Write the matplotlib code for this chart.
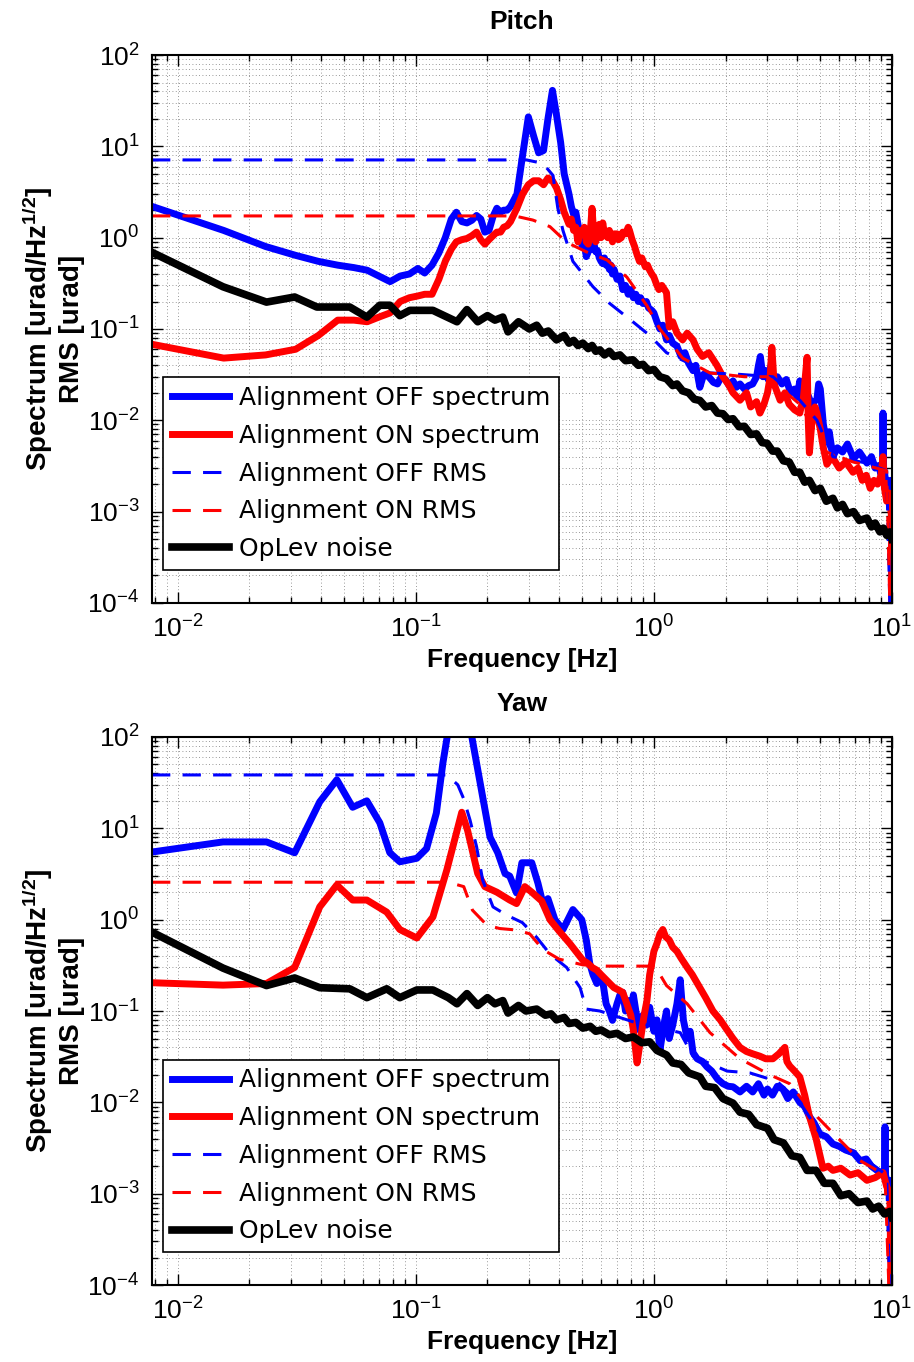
import numpy as np
import matplotlib
matplotlib.use("Agg")
import matplotlib.pyplot as plt
from matplotlib.ticker import LogLocator, NullFormatter

plt.rcParams['font.family'] = ['Liberation Sans', 'DejaVu Sans']
plt.rcParams['mathtext.fontset'] = 'custom'
plt.rcParams['mathtext.rm'] = 'Liberation Sans'
plt.rcParams['mathtext.it'] = 'Liberation Sans:italic'
plt.rcParams['mathtext.bf'] = 'Liberation Sans:bold'

# ---------------- Pitch data ----------------
pitch_off_f = [0.0078, 0.0156, 0.0234, 0.0313, 0.039, 0.047, 0.055, 0.0625, 0.070, 0.078,
               0.086, 0.094, 0.102, 0.109, 0.117, 0.125, 0.133, 0.141, 0.148, 0.156,
               0.164, 0.172, 0.18, 0.1875, 0.195, 0.203, 0.211, 0.219, 0.227, 0.234,
               0.242, 0.25, 0.266, 0.281, 0.297, 0.3125, 0.328, 0.344, 0.359, 0.375,
               0.39, 0.406, 0.42, 0.44, 0.45, 0.46, 0.47, 0.48, 0.49, 0.50,
               0.51, 0.52, 0.53, 0.54, 0.55, 0.56, 0.57, 0.58, 0.59, 0.60,
               0.61, 0.62, 0.63, 0.64, 0.65, 0.66, 0.67, 0.68, 0.70, 0.72,
               0.74, 0.76, 0.78, 0.80, 0.82, 0.84, 0.86, 0.88, 0.90, 0.93,
               0.95, 0.98, 1.0, 1.03, 1.06, 1.09, 1.13, 1.16, 1.2, 1.25,
               1.3, 1.35, 1.4, 1.46, 1.5, 1.56, 1.62, 1.7, 1.78, 1.85,
               1.92, 2.0, 2.07, 2.15, 2.22, 2.3, 2.4, 2.5, 2.6, 2.7,
               2.75, 2.8, 2.87, 2.95, 3.02, 3.1, 3.2, 3.3, 3.45, 3.6,
               3.75, 3.9, 4.0, 4.1, 4.25, 4.4, 4.6, 4.84, 4.92, 5.0,
               5.15, 5.3, 5.45, 5.65, 5.9, 6.2, 6.5, 6.9, 7.3, 7.85,
               8.2, 8.5, 8.8, 9.0, 9.12, 9.17, 9.22, 9.3, 9.5, 9.7,
               9.85, 9.95, 10.0]
pitch_off_asd = [2.2, 1.2, 0.80, 0.64, 0.55, 0.50, 0.47, 0.44, 0.38, 0.33,
                 0.38, 0.40, 0.46, 0.41, 0.50, 0.68, 1.0, 1.6, 1.9, 1.5,
                 1.45, 1.55, 1.75, 1.6, 1.15, 1.2, 1.7, 2.1, 1.9, 2.0,
                 2.0, 2.2, 3.0, 8.0, 21, 13, 8.5, 9.0, 20, 41,
                 22, 11, 5.0, 3.0, 2.2, 1.8, 1.9, 1.4, 1.1, 0.8,
                 0.9, 0.62, 0.7, 0.8, 0.75, 0.85, 0.7, 0.72, 0.6, 0.55,
                 0.52, 0.6, 0.5, 0.55, 0.45, 0.5, 0.4, 0.45, 0.35, 0.38,
                 0.27, 0.3, 0.24, 0.27, 0.22, 0.24, 0.2, 0.22, 0.19, 0.2,
                 0.17, 0.16, 0.15, 0.12, 0.1, 0.11, 0.076, 0.085, 0.07, 0.065,
                 0.05, 0.055, 0.042, 0.035, 0.04, 0.023, 0.032, 0.03, 0.026, 0.025,
                 0.03, 0.028, 0.024, 0.027, 0.023, 0.025, 0.022, 0.024, 0.025, 0.03,
                 0.04, 0.05, 0.03, 0.035, 0.028, 0.04, 0.025, 0.03, 0.025, 0.028,
                 0.02, 0.022, 0.018, 0.027, 0.017, 0.02, 0.015, 0.017, 0.025, 0.022,
                 0.009, 0.006, 0.0075, 0.004, 0.005, 0.0045, 0.0055, 0.0038, 0.0045, 0.0034,
                 0.004, 0.003, 0.0032, 0.0025, 0.0028, 0.012, 0.003, 0.0025, 0.002, 0.0018,
                 0.0022, 0.0015, 1e-5]

pitch_on_f = [0.0078, 0.0156, 0.0234, 0.0313, 0.039, 0.047, 0.055, 0.0625, 0.070, 0.078,
              0.086, 0.094, 0.102, 0.109, 0.117, 0.125, 0.133, 0.141, 0.148, 0.156,
              0.164, 0.172, 0.18, 0.1875, 0.195, 0.203, 0.211, 0.219, 0.227, 0.234,
              0.242, 0.25, 0.266, 0.281, 0.297, 0.3125, 0.328, 0.344, 0.359, 0.375,
              0.39, 0.406, 0.42, 0.44, 0.45, 0.46, 0.47, 0.48, 0.49, 0.50,
              0.51, 0.52, 0.53, 0.54, 0.55, 0.56, 0.57, 0.58, 0.59, 0.60,
              0.61, 0.62, 0.64, 0.65, 0.67, 0.68, 0.70, 0.71, 0.73, 0.74,
              0.76, 0.78, 0.79, 0.81, 0.83, 0.85, 0.87, 0.89, 0.92, 0.94,
              0.96, 0.98, 1.0, 1.03, 1.05, 1.08, 1.13, 1.16, 1.2, 1.25,
              1.32, 1.38, 1.46, 1.52, 1.6, 1.7, 1.84, 1.95, 2.05, 2.15,
              2.3, 2.45, 2.55, 2.7, 2.79, 2.9, 3.0, 3.08, 3.13, 3.2,
              3.3, 3.39, 3.55, 3.7, 3.9, 4.1, 4.25, 4.4, 4.45, 4.5,
              4.6, 4.75, 4.84, 5.0, 5.15, 5.33, 5.6, 6.0, 6.4, 6.86,
              7.2, 7.5, 7.8, 8.1, 8.4, 8.7, 9.0, 9.17, 9.3, 9.5,
              9.7, 9.95, 10.0]
pitch_on_asd = [0.068, 0.048, 0.052, 0.060, 0.085, 0.125, 0.125, 0.12, 0.135, 0.15,
                0.2, 0.22, 0.23, 0.24, 0.24, 0.35, 0.55, 0.75, 0.90, 0.95,
                0.98, 1.05, 1.15, 0.95, 0.85, 0.95, 1.05, 1.15, 1.15, 1.3,
                1.35, 1.5, 2.1, 3.0, 3.8, 4.2, 4.2, 3.8, 4.5, 4.2,
                3.5, 2.6, 1.9, 1.4, 1.6, 1.2, 1.3, 0.9, 1.2, 1.1,
                1.3, 0.9, 0.85, 1.1, 2.1, 1.0, 0.9, 1.2, 1.4, 1.0,
                1.45, 1.1, 1.0, 1.2, 0.9, 1.1, 1.1, 0.95, 1.0, 1.15,
                1.1, 1.3, 1.2, 0.95, 0.8, 0.65, 0.55, 0.6, 0.48, 0.5,
                0.44, 0.4, 0.37, 0.3, 0.27, 0.3, 0.25, 0.105, 0.12, 0.09,
                0.076, 0.09, 0.076, 0.06, 0.05, 0.055, 0.04, 0.03, 0.025, 0.02,
                0.0166, 0.02, 0.014, 0.016, 0.012, 0.015, 0.02, 0.03, 0.063, 0.025,
                0.02, 0.0166, 0.02, 0.015, 0.013, 0.012, 0.018, 0.049, 0.01, 0.0044,
                0.009, 0.014, 0.012, 0.008, 0.005, 0.0033, 0.004, 0.003, 0.0035, 0.0027,
                0.003, 0.0022, 0.0025, 0.0018, 0.0022, 0.002, 0.0025, 0.004, 0.0018, 0.0013,
                0.0016, 0.0009, 1e-5]

pitch_off_rms_f = [0.0078, 0.292, 0.342, 0.377, 0.395, 0.415, 0.457, 0.555, 0.653, 0.816,
                   0.96, 1.13, 1.72, 2.23, 3.16, 4.1, 4.84, 5.65, 7.85, 9.5, 10.0]
pitch_off_rms = [7.1, 7.1, 6.5, 4.8, 2.1, 1.2, 0.55, 0.29, 0.19, 0.12,
                 0.085, 0.055, 0.033, 0.032, 0.03, 0.0166, 0.01, 0.004, 0.0034, 0.0028, 1e-5]

pitch_on_rms_f = [0.0078, 0.26, 0.31, 0.366, 0.43, 0.52, 0.635, 0.77, 0.935, 1.06,
                  1.32, 1.72, 2.4, 3.0, 4.1, 5.3, 6.86, 9.5, 10.0]
pitch_on_rms = [1.73, 1.73, 1.56, 1.32, 0.89, 0.70, 0.57, 0.37, 0.18, 0.10,
                0.048, 0.033, 0.030, 0.030, 0.015, 0.0045, 0.0035, 0.0028, 1e-5]

pitch_opl_f = [0.0078, 0.0155, 0.0236, 0.031, 0.0384, 0.0528, 0.0623, 0.0706, 0.0778, 0.0857,
               0.0944, 0.118, 0.149, 0.164, 0.182, 0.2, 0.215, 0.232, 0.244, 0.27,
               0.3, 0.322, 0.34, 0.36, 0.39, 0.42, 0.44, 0.46, 0.48, 0.503,
               0.53, 0.55, 0.57, 0.593, 0.62, 0.65, 0.68, 0.72, 0.76, 0.816,
               0.86, 0.9, 0.95, 1.0, 1.06, 1.13, 1.2, 1.25, 1.32, 1.4,
               1.48, 1.56, 1.65, 1.75, 1.85, 1.95, 2.05, 2.15, 2.28, 2.4,
               2.55, 2.7, 2.85, 2.99, 3.15, 3.3, 3.5, 3.7, 3.9, 4.1,
               4.3, 4.5, 4.75, 5.0, 5.3, 5.65, 5.9, 6.2, 6.5, 6.9,
               7.3, 7.85, 8.2, 8.5, 8.9, 9.2, 9.5, 9.8, 10.0]
pitch_opl = [0.69, 0.29, 0.197, 0.224, 0.174, 0.174, 0.135, 0.182, 0.182, 0.14,
             0.16, 0.16, 0.12, 0.163, 0.12, 0.14, 0.125, 0.135, 0.093, 0.12,
             0.1, 0.11, 0.09, 0.095, 0.076, 0.085, 0.07, 0.075, 0.066, 0.07,
             0.061, 0.066, 0.057, 0.059, 0.052, 0.057, 0.05, 0.052, 0.045, 0.046,
             0.04, 0.041, 0.035, 0.036, 0.03, 0.0285, 0.024, 0.025, 0.021, 0.02,
             0.017, 0.0165, 0.014, 0.0145, 0.012, 0.0118, 0.0102, 0.0104, 0.0085, 0.0086,
             0.007, 0.0071, 0.0057, 0.0056, 0.0046, 0.0046, 0.0036, 0.0035, 0.0027, 0.0027,
             0.0021, 0.0022, 0.0017, 0.0018, 0.0013, 0.0014, 0.0011, 0.0012, 0.00095, 0.001,
             0.0008, 0.00085, 0.00068, 0.00075, 0.0006, 0.00066, 0.00055, 0.0006, 0.0005]

# ---------------- Yaw data ----------------
yaw_off_f = [0.0078, 0.0155, 0.0236, 0.031, 0.0395, 0.0466, 0.0543, 0.0623, 0.0706, 0.0778,
             0.0857, 0.101, 0.111, 0.122, 0.13, 0.137, 0.148, 0.156, 0.164, 0.172,
             0.191, 0.205, 0.221, 0.237, 0.248, 0.265, 0.279, 0.307, 0.326, 0.342,
             0.359, 0.384, 0.415, 0.457, 0.498, 0.52, 0.538, 0.555, 0.576, 0.59,
             0.61, 0.63, 0.65, 0.67, 0.7, 0.72, 0.74, 0.76, 0.78, 0.8,
             0.82, 0.84, 0.87, 0.9, 0.93, 0.96, 1.0, 1.03, 1.06, 1.1,
             1.13, 1.16, 1.2, 1.25, 1.29, 1.33, 1.38, 1.42, 1.46, 1.52,
             1.6, 1.67, 1.75, 1.85, 1.95, 2.05, 2.15, 2.3, 2.45, 2.6,
             2.75, 2.9, 3.0, 3.15, 3.3, 3.48, 3.65, 3.85, 4.1, 4.3,
             4.5, 4.7, 4.98, 5.3, 5.65, 6.0, 6.4, 6.9, 7.35, 7.8,
             8.2, 8.65, 9.0, 9.3, 9.35, 9.4, 9.6, 9.8, 9.95, 10.0]
yaw_off_asd = [5.5, 7.1, 7.1, 5.4, 19.5, 34, 17, 20, 11.5, 5.4,
               4.3, 4.7, 6.0, 14.7, 52, 120, 400, 300, 150, 100,
               22, 8, 5.4, 3.2, 3.0, 1.96, 4.2, 4.2, 2.5, 1.5,
               1.7, 1.0, 0.78, 1.29, 1.0, 0.6, 0.33, 0.25, 0.2, 0.25,
               0.21, 0.12, 0.1, 0.079, 0.12, 0.15, 0.16, 0.1, 0.13, 0.09,
               0.15, 0.1, 0.062, 0.09, 0.07, 0.11, 0.06, 0.08, 0.037, 0.07,
               0.1, 0.05, 0.07, 0.12, 0.22, 0.08, 0.05, 0.06, 0.035, 0.03,
               0.028, 0.0245, 0.022, 0.018, 0.016, 0.015, 0.0148, 0.013, 0.015, 0.013,
               0.016, 0.012, 0.014, 0.012, 0.015, 0.014, 0.011, 0.013, 0.01, 0.009,
               0.007, 0.006, 0.0045, 0.0042, 0.0035, 0.0033, 0.003, 0.0028, 0.0023, 0.0024,
               0.002, 0.0018, 0.0017, 0.0018, 0.0054, 0.0016, 0.0012, 0.0014, 0.001, 1e-5]

yaw_on_f = [0.0078, 0.0155, 0.0236, 0.031, 0.0395, 0.0466, 0.0543, 0.0623, 0.0755, 0.0857,
            0.101, 0.118, 0.135, 0.156, 0.165, 0.182, 0.195, 0.219, 0.248, 0.265,
            0.287, 0.307, 0.338, 0.366, 0.4, 0.443, 0.503, 0.53, 0.55, 0.576,
            0.6, 0.63, 0.653, 0.68, 0.71, 0.74, 0.77, 0.8, 0.82, 0.85,
            0.88, 0.91, 0.935, 0.96, 1.0, 1.03, 1.06, 1.09, 1.12, 1.16,
            1.2, 1.25, 1.3, 1.38, 1.45, 1.56, 1.65, 1.77, 1.9, 2.03,
            2.15, 2.3, 2.45, 2.6, 2.79, 2.95, 3.16, 3.35, 3.55, 3.62,
            3.72, 3.9, 4.1, 4.3, 4.5, 4.8, 5.13, 5.4, 5.65, 6.1,
            6.67, 7.2, 7.85, 8.5, 9.17, 9.5, 9.8, 10.0]
yaw_on_asd = [0.204, 0.192, 0.20, 0.30, 1.38, 2.4, 1.64, 1.64, 1.21, 0.78,
              0.63, 1.07, 3.5, 15, 9.5, 3.2, 2.3, 2.0, 1.64, 1.5,
              2.3, 2.0, 1.6, 1.0, 0.75, 0.55, 0.36, 0.33, 0.3, 0.28,
              0.25, 0.22, 0.2, 0.18, 0.17, 0.16, 0.12, 0.09, 0.062, 0.027,
              0.05, 0.09, 0.13, 0.25, 0.45, 0.55, 0.7, 0.78, 0.65, 0.6,
              0.5, 0.45, 0.38, 0.3, 0.25, 0.18, 0.14, 0.1, 0.08, 0.062,
              0.05, 0.04, 0.036, 0.034, 0.032, 0.03, 0.03, 0.034, 0.04, 0.028,
              0.025, 0.022, 0.019, 0.012, 0.007, 0.004, 0.0019, 0.002, 0.0018, 0.0019,
              0.0016, 0.0017, 0.0014, 0.0015, 0.0017, 0.0012, 0.001, 1e-5]

yaw_off_rms_f = [0.0078, 0.135, 0.15, 0.159, 0.169, 0.18, 0.191, 0.211, 0.241, 0.28,
                 0.322, 0.366, 0.43, 0.49, 0.52, 0.593, 0.82, 1.29, 1.46, 2.03,
                 2.53, 3.29, 4.1, 4.98, 6.2, 7.85, 9.5, 10.0]
yaw_off_rms = [38.4, 38.4, 30, 21, 12.3, 6.3, 2.7, 1.38, 1.12, 0.93,
               0.64, 0.42, 0.30, 0.18, 0.105, 0.10, 0.076, 0.058, 0.032, 0.022,
               0.021, 0.017, 0.01, 0.0046, 0.003, 0.0023, 0.0016, 1e-5]

yaw_on_rms_f = [0.0078, 0.137, 0.159, 0.173, 0.199, 0.225, 0.265, 0.301, 0.342, 0.4,
                0.503, 0.635, 1.01, 1.13, 1.38, 1.72, 2.3, 3.07, 3.72, 4.5,
                5.48, 7.35, 9.35, 10.0]
yaw_on_rms = [2.57, 2.57, 2.3, 1.27, 0.87, 0.80, 0.77, 0.70, 0.47, 0.37,
              0.32, 0.31, 0.31, 0.19, 0.12, 0.058, 0.03, 0.02, 0.016, 0.0085,
              0.005, 0.0023, 0.0016, 1e-5]

yaw_opl_f = [0.0078, 0.0155, 0.0236, 0.031, 0.0395, 0.0528, 0.0623, 0.0755, 0.0857, 0.101,
             0.118, 0.137, 0.149, 0.164, 0.182, 0.2, 0.215, 0.232, 0.244, 0.27,
             0.29, 0.322, 0.35, 0.37, 0.39, 0.42, 0.44, 0.47, 0.503, 0.54,
             0.57, 0.6, 0.65, 0.7, 0.76, 0.82, 0.89, 0.96, 1.03, 1.13,
             1.2, 1.3, 1.4, 1.56, 1.65, 1.8, 1.95, 2.15, 2.3, 2.5,
             2.7, 3.0, 3.2, 3.5, 3.8, 4.1, 4.4, 4.8, 5.2, 5.65,
             6.1, 6.6, 7.2, 7.85, 8.3, 8.8, 9.3, 9.8, 10.0]
yaw_opl = [0.73, 0.295, 0.19, 0.23, 0.18, 0.175, 0.14, 0.175, 0.14, 0.17,
           0.17, 0.14, 0.12, 0.155, 0.115, 0.14, 0.12, 0.13, 0.095, 0.115,
           0.1, 0.105, 0.09, 0.093, 0.08, 0.085, 0.073, 0.075, 0.065, 0.068,
           0.06, 0.062, 0.055, 0.057, 0.05, 0.052, 0.045, 0.046, 0.037, 0.033,
           0.027, 0.026, 0.021, 0.019, 0.015, 0.0145, 0.011, 0.0098, 0.0078, 0.0074,
           0.0057, 0.0052, 0.0039, 0.0036, 0.0026, 0.0025, 0.0018, 0.0018, 0.0013, 0.0013,
           0.00095, 0.001, 0.0008, 0.00083, 0.00068, 0.00073, 0.0006, 0.00064, 0.00055]

labels = ["Alignment OFF spectrum", "Alignment ON spectrum",
          "Alignment OFF RMS", "Alignment ON RMS", "OpLev noise"]

BLUE = "#0000ff"
RED = "#ff0000"

fig = plt.figure(figsize=(9.14, 13.62), dpi=100)
ax1 = fig.add_axes([0.1663, 0.5573, 0.8096, 0.4023])
ax2 = fig.add_axes([0.1663, 0.0565, 0.8096, 0.4024])

panels = [
    (ax1, "Pitch", pitch_off_f, pitch_off_asd, pitch_on_f, pitch_on_asd,
     pitch_off_rms_f, pitch_off_rms, pitch_on_rms_f, pitch_on_rms, pitch_opl_f, pitch_opl),
    (ax2, "Yaw", yaw_off_f, yaw_off_asd, yaw_on_f, yaw_on_asd,
     yaw_off_rms_f, yaw_off_rms, yaw_on_rms_f, yaw_on_rms, yaw_opl_f, yaw_opl),
]

for (ax, title, f1, a1, f2, a2, f3, r1, f4, r2, f5, o1) in panels:
    h1, = ax.loglog(f1, a1, color=BLUE, lw=5, solid_joinstyle='round')
    h2, = ax.loglog(f2, a2, color=RED, lw=5, solid_joinstyle='round')
    h3, = ax.loglog(f3, r1, color=BLUE, lw=2.2, dashes=(6, 4))
    h4, = ax.loglog(f4, r2, color=RED, lw=2.2, dashes=(6, 4))
    h5, = ax.loglog(f5, o1, color='black', lw=5.5, solid_joinstyle='round')

    ax.set_xlim(0.0078, 10)
    ax.set_ylim(1e-4, 1e2)
    ax.xaxis.set_major_locator(LogLocator(base=10, numticks=10))
    ax.xaxis.set_minor_locator(LogLocator(base=10, subs=np.arange(2, 10), numticks=20))
    ax.yaxis.set_major_locator(LogLocator(base=10, numticks=10))
    ax.yaxis.set_minor_locator(LogLocator(base=10, subs=np.arange(2, 10), numticks=20))
    ax.xaxis.set_minor_formatter(NullFormatter())
    ax.yaxis.set_minor_formatter(NullFormatter())
    ax.grid(True, which='both', linestyle=(0, (1, 3)), color='#555555', lw=0.6, alpha=0.8)
    ax.tick_params(which='both', direction='in', top=True, right=True, width=1)
    ax.tick_params(which='major', length=8, labelsize=19, pad=9)
    ax.tick_params(which='minor', length=4)
    for s in ax.spines.values():
        s.set_linewidth(1.5)

    ax.set_title(title, fontsize=19, fontweight='bold', pad=19)
    ax.set_xlabel("Frequency [Hz]", fontsize=19, fontweight='bold', labelpad=4)
    ax.set_ylabel("Spectrum [urad/Hz$^{\\mathbf{1/2}}$]\nRMS [urad]",
                  fontsize=20, fontweight='bold', labelpad=2)

    leg = ax.legend([h1, h2, h3, h4, h5], labels, loc='lower left',
                    bbox_to_anchor=(0.0149, 0.0602), borderaxespad=0,
                    fancybox=False, framealpha=1, edgecolor='black',
                    prop={'family': 'DejaVu Sans', 'size': 18},
                    handlelength=2.3, handletextpad=0.4, labelspacing=0.55,
                    borderpad=0.35)
    leg.get_frame().set_linewidth(1.2)

fig.savefig("out.png", dpi=100)
